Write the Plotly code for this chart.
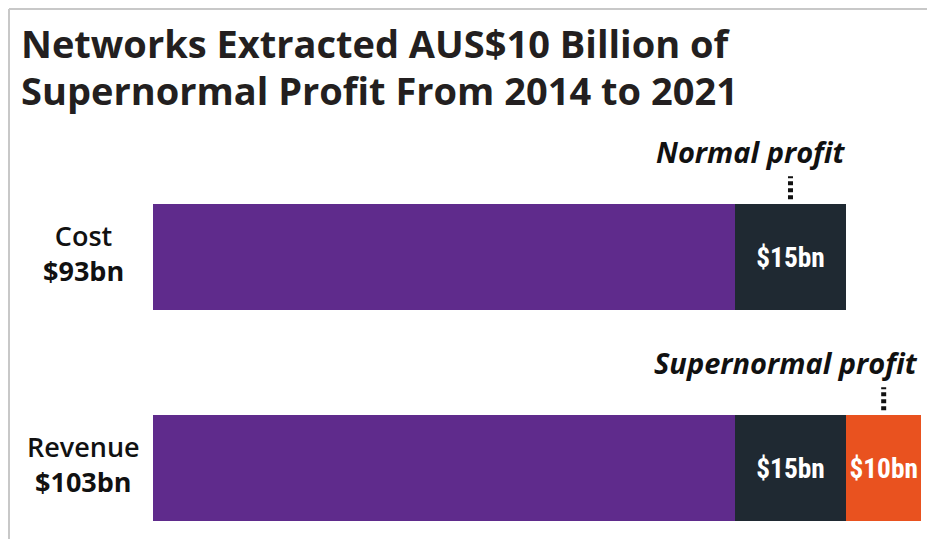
import plotly.graph_objects as go

# data
categories = ["Revenue", "Cost"]
segments = ["Base", "Normal profit", "Supernormal profit"]
base_values = [78, 78]
normal_values = [15, 15]
super_values = [10, 0]
colors = ["#5f2b8c", "#1f2932", "#e9521f"]
title_lines = ["Networks Extracted AUS$10 Billion of", "Supernormal Profit From 2014 to 2021"]

# the page body adds an 8px margin, so work in page pixels and shift
OFF = 8
W, H = 935 - OFF, 539 - OFF


def px(x):
    return (x - OFF) / W


def py(y):
    return 1 - (y - OFF) / H


x_left = 153
px_per_unit = 7.456
x_max = (935 - x_left) / px_per_unit
unit_px = 211  # vertical pixels between category centres

fig = go.Figure()
series = [base_values, normal_values, super_values]
for name, vals, col in zip(segments, series, colors):
    texts = ["" if name == "Base" or v == 0 else f"${v}bn" for v in vals]
    fig.add_trace(go.Bar(
        y=categories, x=vals, name=name, orientation="h",
        marker=dict(color=col, line=dict(width=0)),
        width=0.5, text=texts, textposition="inside",
        insidetextanchor="middle", textangle=0,
        textfont=dict(family="Liberation Sans Narrow, Roboto Condensed, Roboto", size=30,
                      color="white", weight="bold"),
        hoverinfo="skip",
    ))

# left labels with totals
totals = [sum(v) for v in zip(base_values, normal_values, super_values)]
for cat, tot in zip(categories, totals):
    fig.add_annotation(
        x=px(83), xref="paper", y=cat, yref="y", yshift=4,
        text=f"{cat}<br><b>${tot}bn</b>", showarrow=False,
        xanchor="center", yanchor="middle", align="center",
        font=dict(family="Open Sans", size=27, color="#111111", weight=600),
    )

# callouts: normal profit over Cost, supernormal profit over Revenue
callouts = [
    ("Normal profit", "Cost", base_values[1] + normal_values[1] / 2, 751),
    ("Supernormal profit", "Revenue", base_values[0] + normal_values[0] + super_values[0] / 2, 786),
]
for label, cat, xc, text_px in callouts:
    yi = categories.index(cat)
    top = yi + 0.25
    fig.add_shape(type="line", xref="x", yref="y",
                  x0=xc, x1=xc, y0=top + 5 / unit_px, y1=top + 28 / unit_px,
                  line=dict(color="#111111", width=5, dash="4px,3px"))
    fig.add_annotation(
        x=(text_px - x_left) / px_per_unit, xref="x", y=top, yref="y",
        yshift=31, text=f"<b><i>{label}</i></b>", showarrow=False,
        xanchor="center", yanchor="bottom",
        font=dict(family="Open Sans", size=29, color="#111111"),
    )

# title, one annotation per line for tighter leading
for line, yc in zip(title_lines, [43, 90]):
    fig.add_annotation(
        x=px(19), xref="paper", y=py(yc), yref="paper",
        text=f"<b>{line}</b>", showarrow=False,
        xanchor="left", yanchor="middle", align="left",
        font=dict(family="Open Sans", size=38, color="#231f20"),
    )

# frame lines
fig.add_shape(type="line", xref="paper", yref="paper", x0=px(9), x1=1, y0=py(9), y1=py(9),
              line=dict(color="#c8c8c8", width=2))
fig.add_shape(type="line", xref="paper", yref="paper", x0=px(9), x1=px(9), y0=0, y1=py(9),
              line=dict(color="#c8c8c8", width=2))

# revenue centre sits at page y=468
r0 = -(539 - 468) / unit_px
fig.update_layout(
    width=W, height=H, barmode="stack", showlegend=False,
    margin=dict(l=0, r=0, t=0, b=0),
    paper_bgcolor="white", plot_bgcolor="white",
    xaxis=dict(domain=[px(x_left), 1], range=[0, x_max], visible=False),
    yaxis=dict(domain=[0, 1], range=[r0, r0 + H / unit_px], visible=False,
               categoryorder="array", categoryarray=categories),
    uniformtext=dict(mode="show", minsize=10),
)

fig.write_html("out.html")
